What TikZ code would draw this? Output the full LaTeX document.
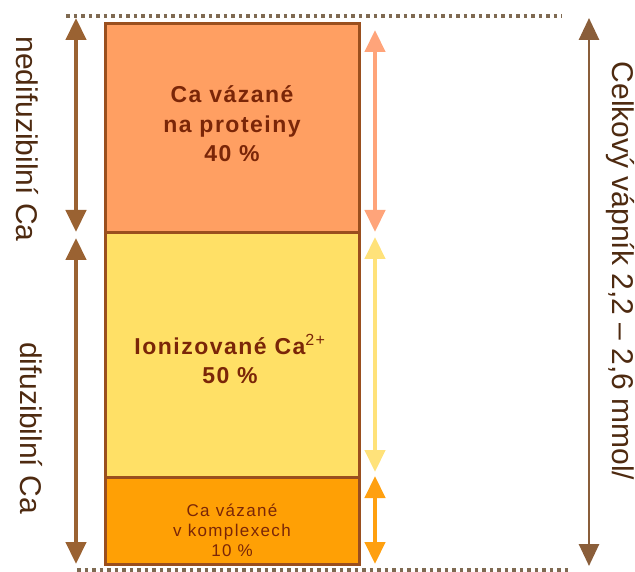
\documentclass[tikz,border=0pt]{standalone}
\usepackage{fontspec}
\setmainfont{Liberation Sans}
\newfontfamily\partfont[LetterSpace=6.5]{Liberation Sans}
\newfontfamily\smallpartfont[LetterSpace=8]{Liberation Sans}
\usetikzlibrary{arrows.meta}

\definecolor{proteinfill}{HTML}{FF9F62}
\definecolor{ionfill}{HTML}{FFE066}
\definecolor{complexfill}{HTML}{FFA005}
\definecolor{boxedge}{HTML}{9A4F1E}
\definecolor{boxtext}{HTML}{7A2608}
\definecolor{sidetext}{HTML}{4E2A10}
\definecolor{sidearrow}{HTML}{9A6232}
\definecolor{totalarrow}{HTML}{8A5E3A}
\definecolor{dotline}{HTML}{7F6A52}
\definecolor{salmonarrow}{HTML}{FFA47A}
\definecolor{yellowarrow}{HTML}{FFE27A}
\definecolor{orangearrow}{HTML}{FFA010}

\tikzset{
  part/.style={draw=boxedge, line width=3pt, anchor=north west,
    minimum width=254pt, inner sep=0pt, outer sep=0pt},
  parttext/.style={text=boxtext, align=center, font=\partfont\bfseries\fontsize{23}{29.5}\selectfont},
  smalltext/.style={text=boxtext, align=center, font=\smallpartfont\fontsize{17}{20}\selectfont},
  sidelabel/.style={text=sidetext, rotate=-90, font=\fontsize{30}{30}\selectfont},
  twohead/.style={{Triangle[width=20pt,length=22pt]}-{Triangle[width=20pt,length=22pt]}, line width=4.5pt},
  totalhead/.style={{Triangle[width=20pt,length=22pt]}-{Triangle[width=20pt,length=22pt]}, line width=2.8pt},
  limitline/.style={dotline, line width=3.5pt, dash pattern=on 3.5pt off 4pt},
}

\begin{document}
\begin{tikzpicture}[x=1pt, y=-1pt]
  \useasboundingbox (0,0) rectangle (635,572);

  % stacked fractions of total calcium
  \node[part, fill=proteinfill, minimum height=209pt] (prot) at (105,24) {};
  \node[part, fill=ionfill, minimum height=244pt] (ion) at (105,233) {};
  \node[part, fill=complexfill, minimum height=87pt] (cplx) at (105,477) {};

  \node[parttext] (protlbl) at (232,124) {Ca vázané\\na proteiny\\40 \%};
  \node[parttext] (ionlbl) at (230,359) {Ionizované Ca\textsuperscript{\mdseries\smallpartfont 2+}\\50 \%};
  \node[smalltext] (cplxlbl) at (232,530) {Ca vázané\\v komplexech\\10 \%};

  % dotted limits
  \coordinate (topL) at (66,16);
  \coordinate (topR) at (562,16);
  \coordinate (botL) at (77,570);
  \coordinate (botR) at (570,570);
  \draw[limitline] (topL) -- (topR);
  \draw[limitline] (botL) -- (botR);

  % left: non-diffusible / diffusible
  \coordinate (nd1) at (76,18);
  \coordinate (nd2) at (76,232);
  \coordinate (d1) at (76,238);
  \coordinate (d2) at (76,564);
  \draw[twohead, sidearrow] (nd1) -- (nd2);
  \draw[twohead, sidearrow] (d1) -- (d2);
  \node[sidelabel] (ndlbl) at (27,139) {nedifuzibilní Ca};
  \node[sidelabel] (dlbl) at (31,428) {difuzibilní Ca};

  % right: single fractions
  \coordinate (s1) at (375,30);
  \coordinate (s2) at (375,232);
  \coordinate (y1) at (375,237);
  \coordinate (y2) at (375,472);
  \coordinate (o1) at (375,476);
  \coordinate (o2) at (375,564);
  \draw[twohead, salmonarrow] (s1) -- (s2);
  \draw[twohead, yellowarrow] (y1) -- (y2);
  \draw[twohead, orangearrow] (o1) -- (o2);

  % total
  \coordinate (t1) at (589,18);
  \coordinate (t2) at (589,566);
  \draw[totalhead, totalarrow] (t1) -- (t2);
  \node[sidelabel] (totlbl) at (620,271) {Celkový vápník 2,2 – 2,6 mmol/};
\end{tikzpicture}
\end{document}
